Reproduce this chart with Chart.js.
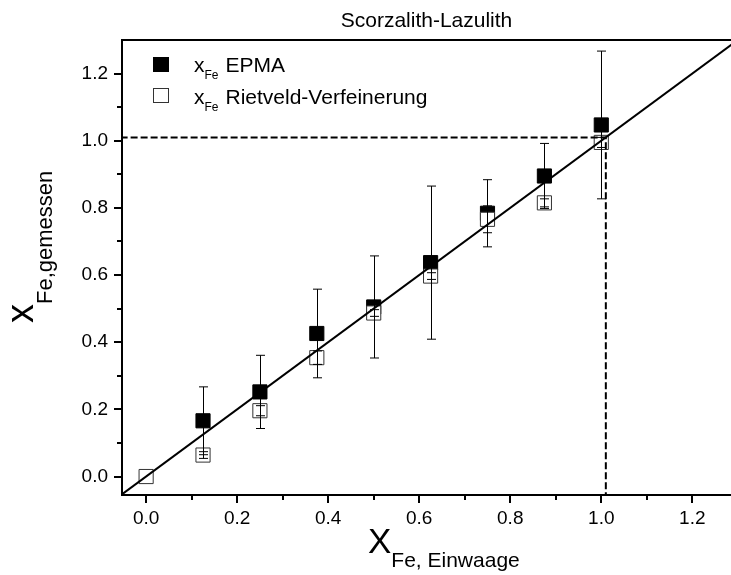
<!DOCTYPE html>
<html>
<head>
<meta charset="utf-8">
<script src="https://cdn.jsdelivr.net/npm/chart.js@4.4.1/dist/chart.umd.min.js"></script>
<style>
    html, body { margin: 0; padding: 0; background: #fff; }
    #wrap { width: 731px; height: 575px; position: relative; }
</style>
</head>
<body>
<div id="wrap"><canvas id="chart"></canvas></div>
<script>
const FONT = '"Liberation Sans", Arial, Helvetica, sans-serif';

// x_Fe (Einwaage) vs. measured x_Fe
const einwaage = [0.125, 0.25, 0.375, 0.5, 0.625, 0.75, 0.875, 1.0];
const epma = [0.166, 0.252, 0.426, 0.505, 0.637, 0.784, 0.895, 1.047];
const epmaErr = [0.101, 0.109, 0.132, 0.152, 0.228, 0.10, 0.097, 0.22];

const einwaageRiet = [0.0, 0.125, 0.25, 0.375, 0.5, 0.625, 0.75, 0.875, 1.0];
const rietveld = [0.0, 0.064, 0.196, 0.354, 0.487, 0.597, 0.766, 0.815, 0.995];
const rietErr = [0, 0.01, 0.015, 0.02, 0.01, 0.01, 0.04, 0.012, 0.015];

// y = x reference line and the dashed guide at x = 1.01
const diagX = [-0.1, 1.4];
const diagY = [-0.1, 1.4];
const guideX = [-0.1, 1.01, 1.01];
const guideY = [1.01, 1.01, -0.1];

const xTicks = [0, 0.2, 0.4, 0.6, 0.8, 1.0, 1.2];
const yTicks = [0, 0.2, 0.4, 0.6, 0.8, 1.0, 1.2];
const xMinor = [0.1, 0.3, 0.5, 0.7, 0.9, 1.1];
const yMinor = [0.1, 0.3, 0.5, 0.7, 0.9, 1.1];

const toPoints = (xs, ys) => xs.map((v, i) => ({x: v, y: ys[i]}));

function drawErrorBars(ctx, xScale, yScale, xs, ys, errs) {
    xs.forEach((xv, i) => {
        if (!errs[i]) return;
        const px = Math.round(xScale.getPixelForValue(xv)) + 0.5;
        const top = yScale.getPixelForValue(ys[i] + errs[i]);
        const bot = yScale.getPixelForValue(ys[i] - errs[i]);
        ctx.beginPath();
        ctx.moveTo(px, top); ctx.lineTo(px, bot);
        ctx.moveTo(px - 4.5, top); ctx.lineTo(px + 4.5, top);
        ctx.moveTo(px - 4.5, bot); ctx.lineTo(px + 4.5, bot);
        ctx.stroke();
    });
}

// subscripted label: big main text followed by a lowered subscript
function subText(ctx, x, y, main, mainSize, sub, subSize, drop) {
    ctx.font = mainSize + 'px ' + FONT;
    ctx.fillText(main, x, y);
    const w = ctx.measureText(main).width;
    ctx.font = subSize + 'px ' + FONT;
    ctx.fillText(sub, x + w, y + drop);
    return x + w + ctx.measureText(sub).width;
}

const decorations = {
    id: 'decorations',
    afterDatasetsDraw(chart) {
        const {ctx, scales: {x, y}} = chart;
        ctx.save();
        ctx.strokeStyle = '#000';
        ctx.lineWidth = 1;
        drawErrorBars(ctx, x, y, einwaage, epma, epmaErr);
        drawErrorBars(ctx, x, y, einwaageRiet, rietveld, rietErr);
        ctx.restore();
    },
    afterDraw(chart) {
        const {ctx, chartArea: area, scales: {x, y}} = chart;
        ctx.save();
        ctx.strokeStyle = '#000';
        ctx.fillStyle = '#000';

        // top frame
        ctx.lineWidth = 2;
        ctx.beginPath();
        ctx.moveTo(area.left - 1, area.top);
        ctx.lineTo(area.right, area.top);
        ctx.stroke();

        // minor ticks
        ctx.beginPath();
        xMinor.forEach(v => {
            const px = Math.round(x.getPixelForValue(v));
            ctx.moveTo(px, area.bottom);
            ctx.lineTo(px, area.bottom + 5);
        });
        yMinor.forEach(v => {
            const py = Math.round(y.getPixelForValue(v));
            ctx.moveTo(area.left, py);
            ctx.lineTo(area.left - 5, py);
        });
        ctx.stroke();

        // title
        ctx.textBaseline = 'alphabetic';
        ctx.textAlign = 'center';
        ctx.font = '21px ' + FONT;
        ctx.fillText('Scorzalith-Lazulith', (area.left + area.right) / 2, 27);
        ctx.textAlign = 'left';

        // x axis title
        subText(ctx, 368, 553, 'X', 35, 'Fe, Einwaage', 21, 14);

        // y axis title
        ctx.save();
        ctx.translate(33, 323);
        ctx.rotate(-Math.PI / 2);
        subText(ctx, 0, 0, 'x', 38, 'Fe,gemessen', 22, 19);
        ctx.restore();

        // legend
        ctx.fillStyle = '#000';
        ctx.fillRect(153, 57, 16, 15);
        ctx.fillStyle = '#fff';
        ctx.fillRect(153, 88, 16, 15);
        ctx.strokeStyle = '#333';
        ctx.lineWidth = 1;
        ctx.strokeRect(153.5, 88.5, 15, 14);
        ctx.fillStyle = '#000';
        let end = subText(ctx, 194, 71.5, 'x', 21, 'Fe', 12, 7);
        ctx.font = '21px ' + FONT;
        ctx.fillText('EPMA', end + 7, 71.5);
        end = subText(ctx, 194, 103.5, 'x', 21, 'Fe', 12, 7);
        ctx.font = '21px ' + FONT;
        ctx.fillText('Rietveld-Verfeinerung', end + 7, 103.5);

        ctx.restore();
    }
};

const axisCommon = {
    type: 'linear',
    grid: {display: true, drawOnChartArea: false, drawTicks: true, tickLength: 8, color: '#000', lineWidth: 2},
    border: {display: true, color: '#000', width: 2},
    title: {display: false}
};

new Chart(document.getElementById('chart'), {
    type: 'scatter',
    data: {
        datasets: [
            {
                label: 'y = x',
                data: toPoints(diagX, diagY),
                showLine: true,
                borderColor: '#000',
                borderWidth: 2,
                pointRadius: 0,
                order: 0
            },
            {
                label: 'Guide',
                data: toPoints(guideX, guideY),
                showLine: true,
                borderColor: '#000',
                borderWidth: 2,
                borderDash: [7, 3],
                pointRadius: 0,
                order: 0
            },
            {
                label: 'x_Fe Rietveld-Verfeinerung',
                data: toPoints(einwaageRiet, rietveld),
                pointStyle: 'rect',
                pointRadius: 10,
                backgroundColor: '#fff',
                borderColor: '#333',
                borderWidth: 1,
                order: 1
            },
            {
                label: 'x_Fe EPMA',
                data: toPoints(einwaage, epma),
                pointStyle: 'rect',
                pointRadius: 10,
                backgroundColor: '#000',
                borderColor: '#000',
                borderWidth: 1,
                order: 2
            }
        ]
    },
    options: {
        responsive: true,
        maintainAspectRatio: false,
        animation: false,
        layout: {autoPadding: false, padding: {top: 40, right: 0, bottom: 0, left: 0}},
        plugins: {
            legend: {display: false},
            tooltip: {enabled: false},
            title: {display: false}
        },
        scales: {
            x: {
                ...axisCommon,
                min: -0.053,
                max: 1.285,
                afterBuildTicks: s => { s.ticks = xTicks.map(v => ({value: v})); },
                afterFit: s => { s.height = 80; },
                ticks: {color: '#000', font: {family: FONT, size: 19}, padding: 4, maxRotation: 0, autoSkip: false,
                    callback: v => v.toFixed(1)}
            },
            y: {
                ...axisCommon,
                min: -0.055,
                max: 1.3,
                afterBuildTicks: s => { s.ticks = yTicks.map(v => ({value: v})); },
                afterFit: s => { s.width = 122; },
                ticks: {color: '#000', font: {family: FONT, size: 19}, padding: 6, autoSkip: false,
                    callback: v => v.toFixed(1)}
            }
        }
    },
    plugins: [decorations]
});
</script>
</body>
</html>
